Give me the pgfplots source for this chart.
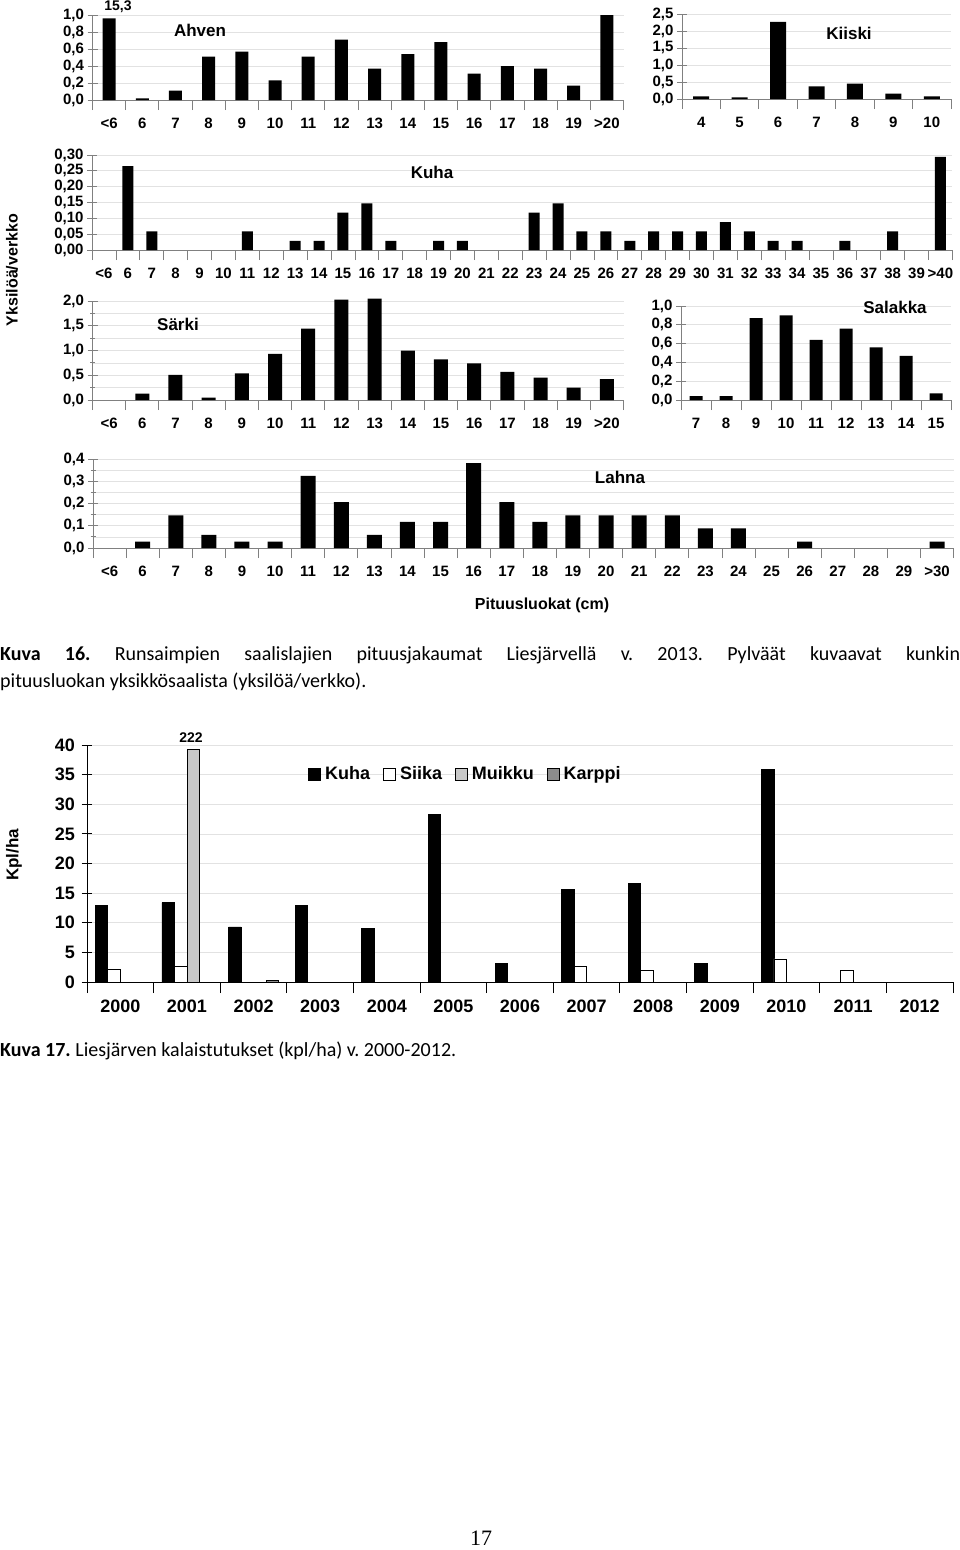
\documentclass[border=0pt]{standalone}
\usepackage{fontspec}
\setmainfont{Liberation Sans}
\newfontfamily\cali{Carlito}
\newfontfamily\tnr{Liberation Serif}
\usepackage{pgfplots}
\pgfplotsset{compat=1.18}
\definecolor{axgray}{RGB}{128,128,128}
\definecolor{gridgray}{RGB}{226,226,226}
\definecolor{muikku}{RGB}{200,200,200}
\definecolor{karppi}{RGB}{140,140,140}
\pgfplotsset{
 fish/.style={
  scale only axis,
  axis lines*=left,
  axis line style={-, draw=axgray, line width=0.8bp},
  tick style={draw=axgray, line width=0.8bp},
  tick align=center,
  major tick length=10bp,
  minor tick length=5bp,
  ymajorgrids,
  major grid style={draw=gridgray, line width=0.7bp},
  minor grid style={draw=gridgray, line width=0.7bp},
  ymin=0,
  xticklabel={\relax},
  extra x tick style={major tick length=0bp},
  tick label style={font=\fontsize{15bp}{17bp}\selectfont\bfseries},
  xticklabel style={yshift=-14bp, text height=11bp, text depth=0bp},
  yticklabel style={/pgf/number format/.cd, fixed, fixed zerofill, precision=1, use comma, assume math mode=true},
  clip=false,
  ybar, bar width=13bp,
 },
 fbar/.style={fill=black, draw=none},
}
\begin{document}
\begin{tikzpicture}
\useasboundingbox (0,0) rectangle (960bp,-1550bp);
\fill[white] (0,0) rectangle (960bp,-1550bp);

% Ahven
\begin{axis}[fish, at={(92.5bp,-100bp)}, anchor=south west, width=531bp, height=85bp,
  xmin=-0.5, xmax=15.5, ymax=1, ytick={0,0.2,0.4,0.6,0.8,1},
  xtick={-0.5,0.5,...,15.5}, extra x ticks={0,...,15},
  extra x tick labels={<6,6,7,8,9,10,11,12,13,14,15,16,17,18,19,>20}, bar width=13bp]
\addplot[fbar] coordinates {(0,0.96) (1,0.02) (2,0.11) (3,0.51) (4,0.57) (5,0.23) (6,0.51) (7,0.71) (8,0.37) (9,0.54) (10,0.68) (11,0.31) (12,0.40) (13,0.37) (14,0.17) (15,1.00)};
\end{axis}

% Kiiski
\begin{axis}[fish, at={(682bp,-99bp)}, anchor=south west, width=269bp, height=85bp,
  xmin=-0.5, xmax=6.5, ymax=2.5, ytick={0,0.5,1,1.5,2,2.5},
  xtick={-0.5,0.5,...,6.5}, extra x ticks={0,...,6},
  extra x tick labels={4,5,6,7,8,9,10}, bar width=16bp]
\addplot[fbar] coordinates {(0,0.08) (1,0.05) (2,2.27) (3,0.37) (4,0.45) (5,0.16) (6,0.08)};
\end{axis}

% Kuha
\begin{axis}[fish, at={(92bp,-250bp)}, anchor=south west, width=860.4bp, height=95bp,
  xmin=-0.5, xmax=35.5, ymax=0.30, ytick={0,0.05,0.10,0.15,0.20,0.25,0.30},
  yticklabel style={/pgf/number format/precision=2},
  xtick={-0.5,0.5,...,35.5}, extra x ticks={0,...,35},
  extra x tick labels={<6,6,7,8,9,10,11,12,13,14,15,16,17,18,19,20,21,22,23,24,25,26,27,28,29,30,31,32,33,34,35,36,37,38,39,>40}, bar width=11bp]
\addplot[fbar] coordinates {(1,0.265) (2,0.059) (6,0.059) (8,0.029) (9,0.029) (10,0.118) (11,0.147) (12,0.029) (14,0.029) (15,0.029) (18,0.118) (19,0.147) (20,0.059) (21,0.059) (22,0.029) (23,0.059) (24,0.059) (25,0.059) (26,0.088) (27,0.059) (28,0.029) (29,0.029) (31,0.029) (33,0.059) (35,0.294)};
\end{axis}

% Sarki
\begin{axis}[fish, at={(92.5bp,-400bp)}, anchor=south west, width=531bp, height=99bp,
  xmin=-0.5, xmax=15.5, ymax=2, ytick={0,0.5,1,1.5,2}, minor ytick={0.25,0.75,1.25,1.75}, yminorgrids,
  xtick={-0.5,0.5,...,15.5}, extra x ticks={0,...,15},
  extra x tick labels={<6,6,7,8,9,10,11,12,13,14,15,16,17,18,19,>20}, bar width=14bp]
\addplot[fbar] coordinates {(1,0.13) (2,0.51) (3,0.05) (4,0.54) (5,0.93) (6,1.44) (7,2.03) (8,2.05) (9,1.00) (10,0.82) (11,0.74) (12,0.57) (13,0.45) (14,0.25) (15,0.42)};
\end{axis}

% Salakka
\begin{axis}[fish, at={(681bp,-400bp)}, anchor=south west, width=270bp, height=94bp,
  xmin=-0.5, xmax=8.5, ymax=1, ytick={0,0.2,0.4,0.6,0.8,1},
  xtick={-0.5,0.5,...,8.5}, extra x ticks={0,...,8},
  extra x tick labels={7,8,9,10,11,12,13,14,15}, bar width=13bp]
\addplot[fbar] coordinates {(0,0.04) (1,0.04) (2,0.87) (3,0.90) (4,0.64) (5,0.76) (6,0.56) (7,0.47) (8,0.07)};
\end{axis}

% Lahna
\begin{axis}[fish, at={(93bp,-548bp)}, anchor=south west, width=860.6bp, height=89bp,
  xmin=-0.5, xmax=25.5, ymax=0.4, ytick={0,0.1,0.2,0.3,0.4}, minor ytick={0.05,0.15,0.25,0.35}, yminorgrids,
  xtick={-0.5,0.5,...,25.5}, extra x ticks={0,...,25},
  extra x tick labels={<6,6,7,8,9,10,11,12,13,14,15,16,17,18,19,20,21,22,23,24,25,26,27,28,29,>30}, bar width=15bp]
\addplot[fbar] coordinates {(1,0.029) (2,0.147) (3,0.059) (4,0.029) (5,0.029) (6,0.324) (7,0.206) (8,0.059) (9,0.118) (10,0.118) (11,0.382) (12,0.206) (13,0.118) (14,0.147) (15,0.147) (16,0.147) (17,0.147) (18,0.088) (19,0.088) (21,0.029) (25,0.029)};
\end{axis}

% Kuva 17 chart
\begin{axis}[scale only axis, at={(87bp,-982bp)}, anchor=south west, width=866bp, height=237bp,
  axis lines*=left,
  axis line style={-, draw=black, line width=0.9bp},
  tick style={draw=black, line width=0.9bp},
  tick align=center, major tick length=11bp,
  ymajorgrids, major grid style={draw=gridgray, line width=0.7bp},
  xmin=-0.5, xmax=12.5, ymin=0, ymax=40, ytick={0,5,10,15,20,25,30,35,40},
  xtick={-0.5,0.5,...,12.5}, xticklabel={\relax},
  extra x ticks={0,...,12}, extra x tick style={major tick length=0bp},
  extra x tick labels={2000,2001,2002,2003,2004,2005,2006,2007,2008,2009,2010,2011,2012},
  tick label style={font=\fontsize{18bp}{20bp}\selectfont\bfseries},
  xticklabel style={yshift=-14bp, text height=13bp, text depth=0bp},
  yticklabel style={/pgf/number format/assume math mode=true, xshift=-3bp},
  clip=false,
  ybar=0pt, bar width=12.5bp,
  legend style={at={(0.252,0.878)}, anchor=west, draw=none, fill=none, legend columns=4,
    font=\fontsize{18bp}{20bp}\selectfont\bfseries,
    /tikz/every odd column/.append style={column sep=2bp},
    /tikz/every even column/.append style={column sep=11bp}},
  legend image code/.code={\draw[#1] (0bp,-6bp) rectangle (12bp,6bp);},
  ]
\addplot[fill=black, draw=black, line width=0.8bp] coordinates {(0,12.9) (1,13.4) (2,9.3) (3,12.9) (4,9.0) (5,28.3) (6,3.1) (7,15.6) (8,16.6) (9,3.1) (10,35.9)};
\addplot[fill=white, draw=black, line width=0.8bp] coordinates {(0,2.1) (1,2.6) (7,2.6) (8,1.9) (10,3.9) (11,1.9)};
\addplot[fill=muikku, draw=black, line width=0.8bp] coordinates {(1,39.2)};
\addplot[fill=karppi, draw=black, line width=0.8bp] coordinates {(2,0.3)};
\legend{Kuha,Siika,Muikku,Karppi}
\end{axis}

% titles and labels
\begin{scope}[every node/.style={font=\fontsize{17bp}{20bp}\selectfont\bfseries}]
\node at (200bp,-30bp) {Ahven};
\node at (849bp,-33bp) {Kiiski};
\node at (432bp,-172bp) {Kuha};
\node at (178bp,-324bp) {Särki};
\node at (895bp,-307bp) {Salakka};
\node at (620bp,-477bp) {Lahna};
\end{scope}
\node[font=\fontsize{14bp}{16bp}\selectfont\bfseries] at (118bp,-7bp) {15,3};
\node[font=\fontsize{14bp}{16bp}\selectfont\bfseries] at (191bp,-738bp) {222};
\node[rotate=90, font=\fontsize{16bp}{18bp}\selectfont\bfseries] at (12bp,-270bp) {Yksilöä/verkko};
\node[font=\fontsize{16bp}{18bp}\selectfont\bfseries] at (542bp,-605bp) {Pituusluokat (cm)};
\node[rotate=90, font=\fontsize{17bp}{19bp}\selectfont\bfseries] at (14bp,-855bp) {Kpl/ha};

% captions
\node[anchor=north west, inner sep=0pt, text width=960bp, align=justify,
  font=\cali\fontsize{20bp}{27bp}\selectfont] at (0bp,-646bp)
  {\frenchspacing\hyphenpenalty=10000 \textbf{Kuva 16.} Runsaimpien saalislajien pituusjakaumat Liesjärvellä v. 2013. Pylväät kuvaavat kunkin\linebreak pituusluokan yksikkösaalista (yksilöä/verkko).};
\node[anchor=north west, inner sep=0pt, font=\cali\fontsize{20bp}{27bp}\selectfont] at (0bp,-1042bp)
  {\frenchspacing\textbf{Kuva 17.} Liesjärven kalaistutukset (kpl/ha) v. 2000-2012.};
\node[font=\tnr\fontsize{22bp}{24bp}\selectfont] at (481bp,-1538bp) {17};
\end{tikzpicture}
\end{document}
